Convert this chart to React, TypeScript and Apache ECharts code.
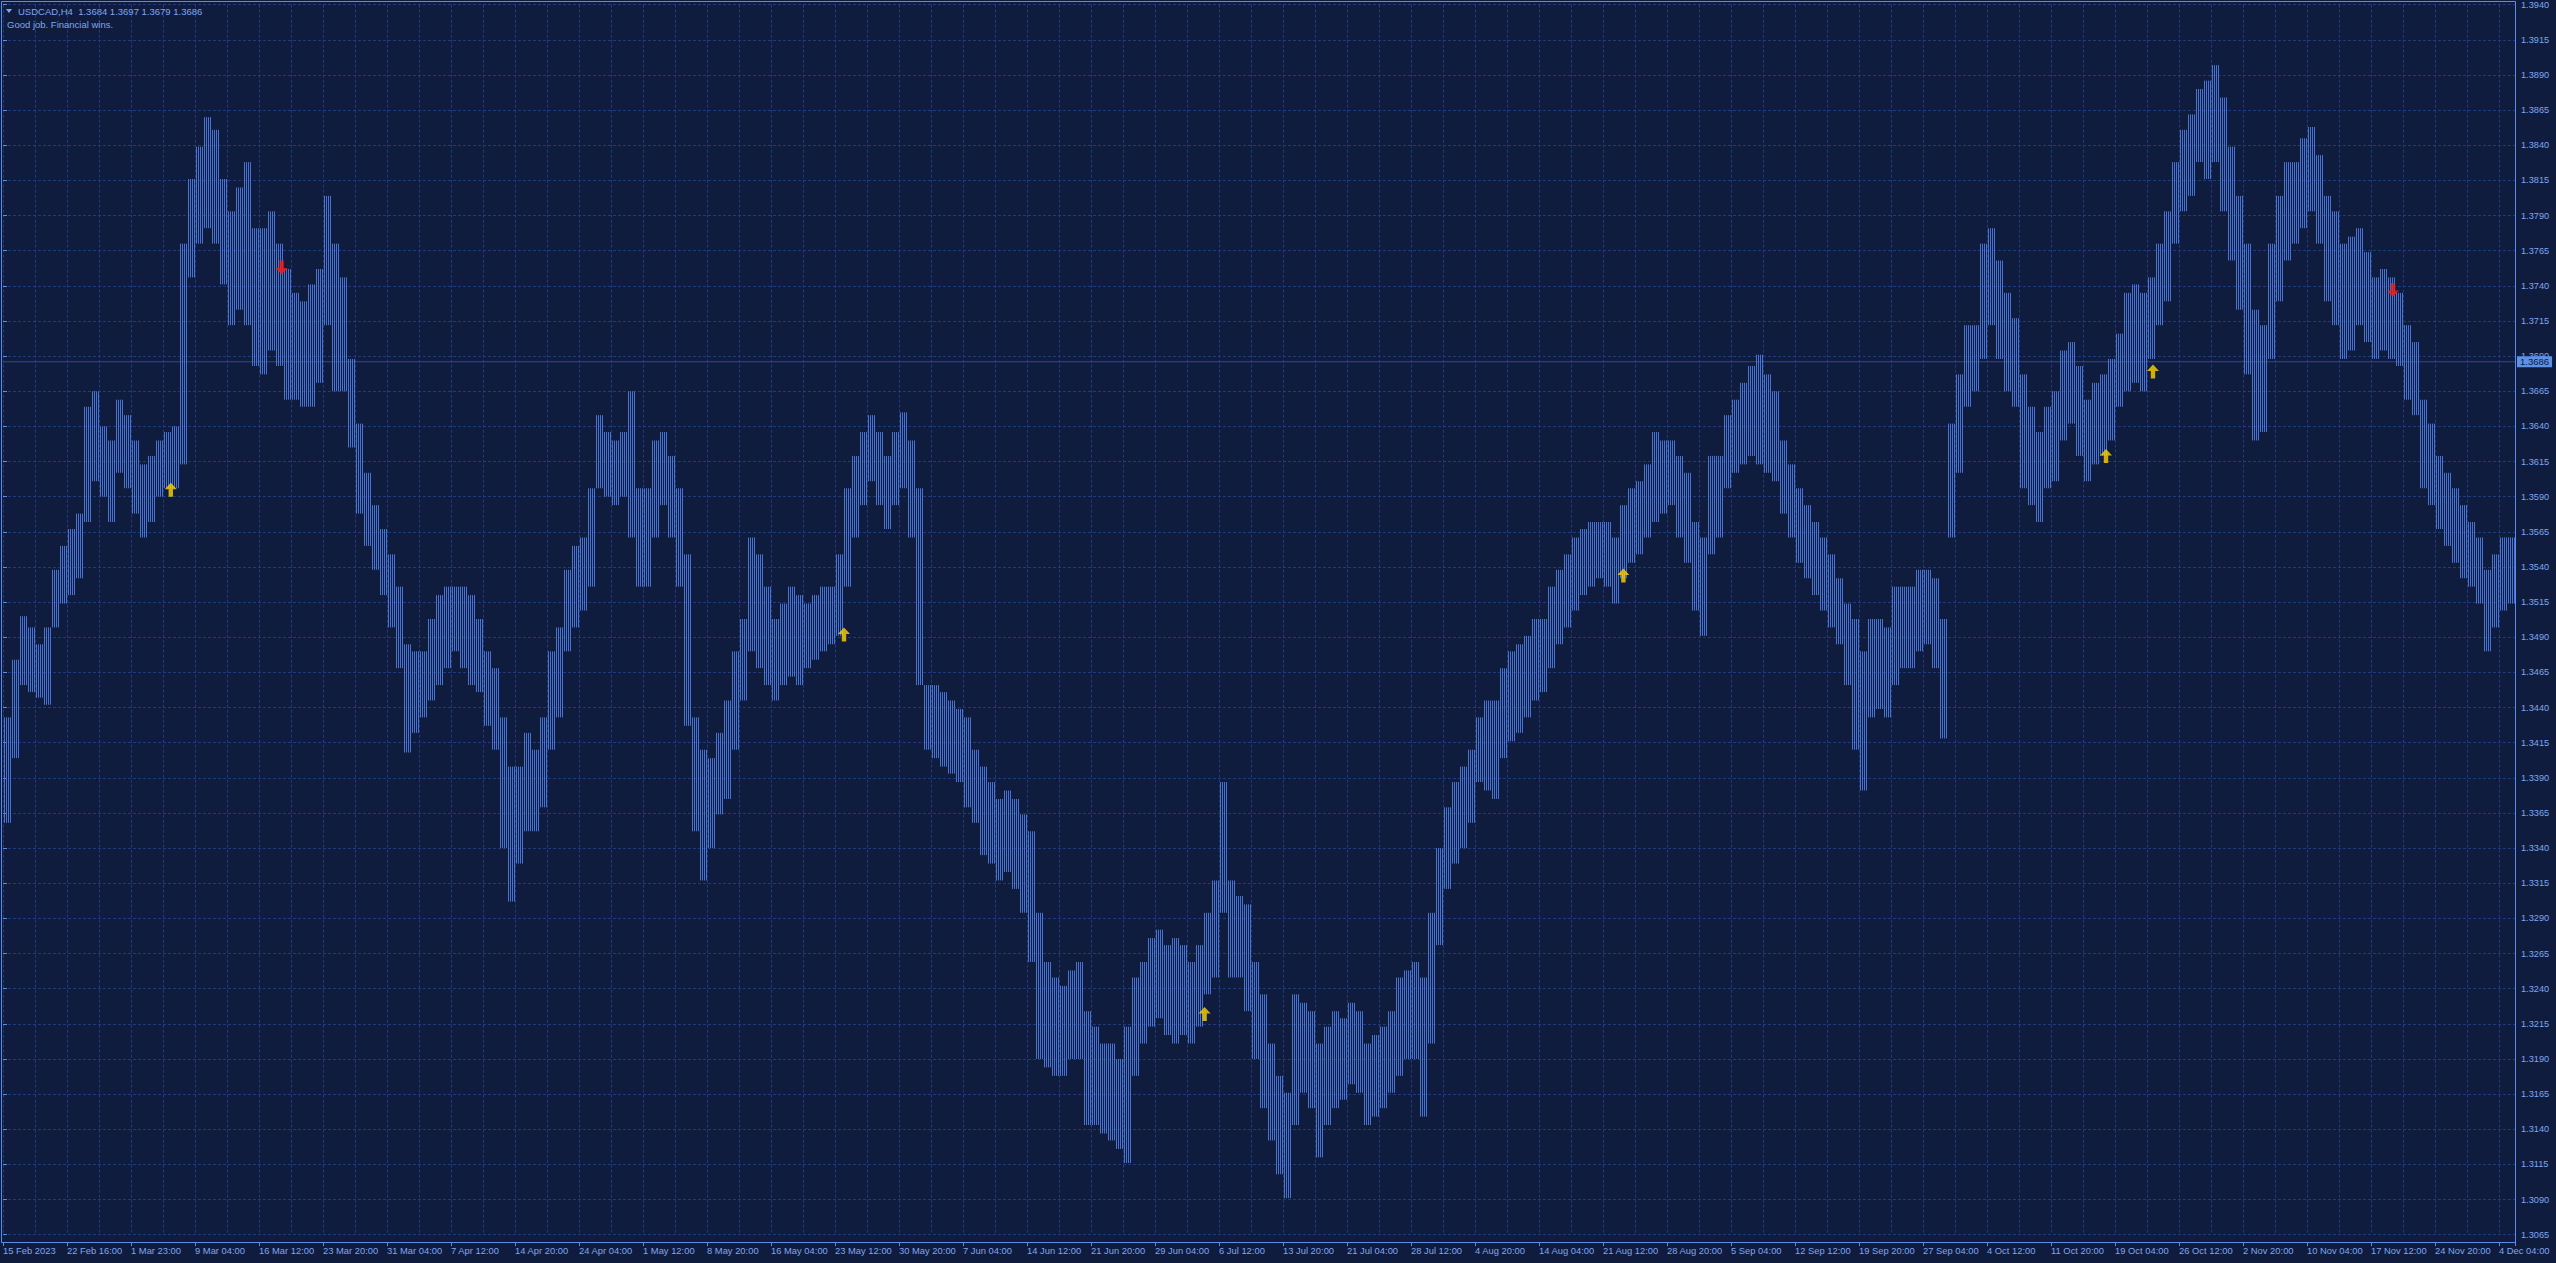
import React, { useEffect, useRef } from 'react';
import * as echarts from 'echarts';

// ---- data -------------------------------------------------------------
const TOTAL_BARS = 1256; // H4 bars visible in the window
const LABEL_EVERY = 32; // bars between time labels
const GRID_EVERY = 16; // bars between vertical grid lines

const tickLabels = [
  '15 Feb 2023', '22 Feb 16:00', '1 Mar 23:00', '9 Mar 04:00', '16 Mar 12:00', '23 Mar 20:00',
  '31 Mar 04:00', '7 Apr 12:00', '14 Apr 20:00', '24 Apr 04:00', '1 May 12:00', '8 May 20:00',
  '16 May 04:00', '23 May 12:00', '30 May 20:00', '7 Jun 04:00', '14 Jun 12:00', '21 Jun 20:00',
  '29 Jun 04:00', '6 Jul 12:00', '13 Jul 20:00', '21 Jul 04:00', '28 Jul 12:00', '4 Aug 20:00',
  '14 Aug 04:00', '21 Aug 12:00', '28 Aug 20:00', '5 Sep 04:00', '12 Sep 12:00', '19 Sep 20:00',
  '27 Sep 04:00', '4 Oct 12:00', '11 Oct 20:00', '19 Oct 04:00', '26 Oct 12:00', '2 Nov 20:00',
  '10 Nov 04:00', '17 Nov 12:00', '24 Nov 20:00', '4 Dec 04:00',
];

// high / low of consecutive groups of 4 bars, left to right
const highs = [
  1.3433, 1.3474, 1.3505, 1.3497, 1.3485, 1.3497, 1.3538, 1.3555, 1.3567, 1.3578,
  1.3654, 1.3665, 1.3640, 1.3630, 1.3659, 1.3648, 1.3630, 1.3613, 1.3619, 1.3630,
  1.3636, 1.3640, 1.3770, 1.3816, 1.3839, 1.3860, 1.3851, 1.3816, 1.3793, 1.3810,
  1.3828, 1.3781, 1.3781, 1.3793, 1.3770, 1.3752, 1.3735, 1.3729, 1.3741, 1.3752,
  1.3804, 1.3770, 1.3746, 1.3688, 1.3642, 1.3607, 1.3584, 1.3567, 1.3549, 1.3526,
  1.3485, 1.3480, 1.3480, 1.3503, 1.3520, 1.3526, 1.3526, 1.3526, 1.3520, 1.3503,
  1.3480, 1.3468, 1.3433, 1.3398, 1.3398, 1.3422, 1.3410, 1.3433, 1.3480, 1.3497,
  1.3538, 1.3555, 1.3561, 1.3596, 1.3648, 1.3636, 1.3630, 1.3636, 1.3665, 1.3596,
  1.3596, 1.3630, 1.3636, 1.3619, 1.3596, 1.3549, 1.3433, 1.3410, 1.3404, 1.3422,
  1.3445, 1.3480, 1.3503, 1.3561, 1.3549, 1.3526, 1.3503, 1.3514, 1.3526, 1.3520,
  1.3514, 1.3520, 1.3526, 1.3526, 1.3549, 1.3596, 1.3619, 1.3636, 1.3648, 1.3636,
  1.3619, 1.3636, 1.3650, 1.3630, 1.3596, 1.3456, 1.3456, 1.3451, 1.3445, 1.3439,
  1.3433, 1.3410, 1.3398, 1.3387, 1.3375, 1.3381, 1.3375, 1.3364, 1.3352, 1.3294,
  1.3259, 1.3248, 1.3242, 1.3253, 1.3259, 1.3224, 1.3213, 1.3201, 1.3201, 1.3190,
  1.3213, 1.3248, 1.3259, 1.3276, 1.3282, 1.3271, 1.3276, 1.3271, 1.3259, 1.3271,
  1.3294, 1.3317, 1.3387, 1.3317, 1.3306, 1.3300, 1.3259, 1.3236, 1.3201, 1.3178,
  1.3166, 1.3236, 1.3230, 1.3224, 1.3201, 1.3213, 1.3224, 1.3219, 1.3230, 1.3224,
  1.3201, 1.3207, 1.3213, 1.3224, 1.3248, 1.3253, 1.3259, 1.3248, 1.3294, 1.3340,
  1.3369, 1.3387, 1.3398, 1.3410, 1.3433, 1.3445, 1.3445, 1.3468, 1.3480, 1.3485,
  1.3491, 1.3503, 1.3503, 1.3526, 1.3538, 1.3549, 1.3561, 1.3567, 1.3572, 1.3572,
  1.3572, 1.3561, 1.3584, 1.3596, 1.3601, 1.3613, 1.3636, 1.3630, 1.3630, 1.3619,
  1.3607, 1.3572, 1.3561, 1.3619, 1.3619, 1.3648, 1.3659, 1.3671, 1.3683, 1.3691,
  1.3677, 1.3665, 1.3630, 1.3613, 1.3596, 1.3584, 1.3572, 1.3561, 1.3549, 1.3532,
  1.3514, 1.3503, 1.3480, 1.3503, 1.3503, 1.3497, 1.3526, 1.3526, 1.3526, 1.3538,
  1.3538, 1.3532, 1.3503, 1.3642, 1.3677, 1.3712, 1.3712, 1.3770, 1.3781, 1.3758,
  1.3735, 1.3717, 1.3677, 1.3654, 1.3636, 1.3654, 1.3665, 1.3694, 1.3700, 1.3683,
  1.3659, 1.3671, 1.3677, 1.3688, 1.3706, 1.3735, 1.3741, 1.3735, 1.3746, 1.3770,
  1.3793, 1.3828, 1.3851, 1.3862, 1.3880, 1.3886, 1.3897, 1.3874, 1.3839, 1.3804,
  1.3770, 1.3723, 1.3712, 1.3770, 1.3804, 1.3828, 1.3828, 1.3845, 1.3853, 1.3833,
  1.3804, 1.3793, 1.3770, 1.3775, 1.3781, 1.3764, 1.3746, 1.3752, 1.3746, 1.3735,
  1.3712, 1.3700, 1.3659, 1.3642, 1.3619, 1.3607, 1.3596, 1.3584, 1.3572, 1.3561,
  1.3538, 1.3549, 1.3561, 1.3561,
];

const lows = [
  1.3358, 1.3404, 1.3456, 1.3451, 1.3447, 1.3442, 1.3497, 1.3514, 1.3520, 1.3532,
  1.3572, 1.3601, 1.3590, 1.3572, 1.3607, 1.3596, 1.3578, 1.3561, 1.3572, 1.3590,
  1.3596, 1.3596, 1.3613, 1.3746, 1.3770, 1.3781, 1.3770, 1.3741, 1.3712, 1.3723,
  1.3712, 1.3683, 1.3677, 1.3694, 1.3683, 1.3659, 1.3659, 1.3654, 1.3654, 1.3671,
  1.3712, 1.3665, 1.3665, 1.3625, 1.3578, 1.3555, 1.3538, 1.3520, 1.3497, 1.3468,
  1.3408, 1.3422, 1.3433, 1.3445, 1.3456, 1.3468, 1.3480, 1.3468, 1.3456, 1.3451,
  1.3427, 1.3410, 1.3340, 1.3302, 1.3329, 1.3352, 1.3352, 1.3369, 1.3410, 1.3433,
  1.3480, 1.3497, 1.3509, 1.3526, 1.3596, 1.3590, 1.3584, 1.3590, 1.3561, 1.3526,
  1.3526, 1.3561, 1.3584, 1.3561, 1.3526, 1.3427, 1.3352, 1.3317, 1.3340, 1.3364,
  1.3375, 1.3410, 1.3445, 1.3480, 1.3468, 1.3456, 1.3445, 1.3456, 1.3462, 1.3456,
  1.3468, 1.3474, 1.3480, 1.3485, 1.3491, 1.3526, 1.3561, 1.3584, 1.3601, 1.3584,
  1.3567, 1.3584, 1.3596, 1.3561, 1.3456, 1.3410, 1.3404, 1.3398, 1.3393, 1.3387,
  1.3369, 1.3358, 1.3335, 1.3329, 1.3317, 1.3323, 1.3311, 1.3294, 1.3259, 1.3190,
  1.3184, 1.3178, 1.3178, 1.3190, 1.3190, 1.3143, 1.3143, 1.3137, 1.3132, 1.3126,
  1.3116, 1.3178, 1.3201, 1.3213, 1.3219, 1.3207, 1.3201, 1.3207, 1.3201, 1.3213,
  1.3236, 1.3248, 1.3294, 1.3248, 1.3248, 1.3224, 1.3190, 1.3155, 1.3132, 1.3108,
  1.3091, 1.3143, 1.3166, 1.3155, 1.3120, 1.3143, 1.3155, 1.3161, 1.3172, 1.3166,
  1.3143, 1.3149, 1.3155, 1.3166, 1.3178, 1.3190, 1.3190, 1.3149, 1.3201, 1.3271,
  1.3311, 1.3329, 1.3340, 1.3358, 1.3387, 1.3381, 1.3375, 1.3404, 1.3416, 1.3422,
  1.3433, 1.3445, 1.3451, 1.3468, 1.3485, 1.3497, 1.3509, 1.3520, 1.3526, 1.3532,
  1.3526, 1.3514, 1.3532, 1.3543, 1.3549, 1.3561, 1.3572, 1.3578, 1.3584, 1.3561,
  1.3543, 1.3509, 1.3491, 1.3549, 1.3561, 1.3596, 1.3607, 1.3613, 1.3619, 1.3613,
  1.3607, 1.3601, 1.3578, 1.3561, 1.3543, 1.3532, 1.3520, 1.3509, 1.3497, 1.3485,
  1.3456, 1.3410, 1.3381, 1.3433, 1.3439, 1.3433, 1.3456, 1.3468, 1.3468, 1.3480,
  1.3485, 1.3468, 1.3418, 1.3561, 1.3607, 1.3654, 1.3665, 1.3688, 1.3712, 1.3688,
  1.3665, 1.3654, 1.3596, 1.3584, 1.3572, 1.3596, 1.3601, 1.3630, 1.3642, 1.3619,
  1.3601, 1.3613, 1.3619, 1.3630, 1.3654, 1.3665, 1.3671, 1.3665, 1.3688, 1.3712,
  1.3729, 1.3770, 1.3793, 1.3804, 1.3828, 1.3816, 1.3828, 1.3793, 1.3758, 1.3723,
  1.3677, 1.3630, 1.3636, 1.3688, 1.3729, 1.3758, 1.3770, 1.3781, 1.3793, 1.3770,
  1.3729, 1.3712, 1.3688, 1.3694, 1.3712, 1.3700, 1.3688, 1.3694, 1.3688, 1.3683,
  1.3659, 1.3648, 1.3596, 1.3584, 1.3567, 1.3555, 1.3543, 1.3532, 1.3526, 1.3514,
  1.3480, 1.3497, 1.3509, 1.3514,
];

// signal arrows: [bar index, price]
const buyArrows = [
  [83.9, 1.3595], [420.5, 1.3492], [600.8, 1.3222], [810.2, 1.3534],
  [1051.5, 1.3619], [1075, 1.3679],
];
const sellArrows = [
  [139.3, 1.3753], [1195, 1.3737],
];

const priceMin = 1.3065;
const priceMax = 1.394;
const priceStep = 0.0025;
const bidPrice = 1.3686;
const symbolName = 'USDCAD,H4';
const lastOHLC = [1.3684, 1.3697, 1.3679, 1.3686];
const commentText = 'Good job. Financial wins.';

// ---- styles -----------------------------------------------------------
const BG = '#101c3e';
const GRID = '#203b7b';
const FRAME = '#5c8ce6';
const TEXT = '#7ea7f2';
const BAR = '#4673d4';
const FONT = 'Liberation Sans, Arial, sans-serif';

const upPath = 'path://M6,0 L12,6.5 L8.2,6.5 L8.2,14 L3.8,14 L3.8,6.5 L0,6.5 Z';
const downPath = 'path://M3.8,0 L8.2,0 L8.2,7.5 L12,7.5 L6,14 L0,7.5 L3.8,7.5 Z';

export default function App() {
  const ref = useRef<HTMLDivElement>(null);

  useEffect(() => {
    const el = ref.current!;
    const chart = echarts.init(el, null, { renderer: 'svg' });
    const bps = TOTAL_BARS / highs.length;

    const option: any = {
      animation: false,
      backgroundColor: BG,
      textStyle: { fontFamily: FONT },
      grid: { left: 3, right: 41, top: 4.7, bottom: 28.3, containLabel: false },
      xAxis: [
        {
          type: 'value',
          min: 0,
          max: TOTAL_BARS,
          interval: LABEL_EVERY,
          position: 'bottom',
          offset: 7.3,
          axisLine: { show: false },
          axisTick: { show: true, length: 4, lineStyle: { color: FRAME, width: 1 } },
          axisLabel: {
            show: true,
            align: 'left',
            margin: 4,
            color: TEXT,
            fontSize: 9.4,
            fontFamily: FONT,
            formatter: (v: number) => {
              const i = Math.round(v / LABEL_EVERY);
              return Math.abs(i * LABEL_EVERY - v) < 1e-6 && tickLabels[i] ? tickLabels[i] : '';
            },
          },
          splitLine: { show: false },
        },
        {
          type: 'value',
          min: 0,
          max: TOTAL_BARS,
          interval: GRID_EVERY,
          position: 'top',
          axisLine: { show: false },
          axisTick: { show: false },
          axisLabel: { show: false },
          splitLine: { show: true, lineStyle: { color: GRID, type: [3, 2], width: 1 } },
        },
      ],
      yAxis: {
        type: 'value',
        position: 'right',
        min: priceMin,
        max: priceMax,
        interval: priceStep,
        axisLine: { show: false },
        axisTick: { show: true, length: 4, lineStyle: { color: FRAME, width: 1 } },
        axisLabel: {
          color: TEXT,
          fontSize: 9.2,
          fontFamily: FONT,
          margin: 6,
          formatter: (v: number) => v.toFixed(4),
        },
        splitLine: { show: true, lineStyle: { color: GRID, type: [3, 2], width: 1 } },
      },
      graphic: [
        {
          type: 'rect',
          silent: true,
          z: 100,
          shape: { x: 1.5, y: 1.5, width: 2514, height: 1241 },
          style: { fill: null, stroke: FRAME, lineWidth: 1 },
        },
        {
          type: 'polygon',
          silent: true,
          z: 100,
          shape: { points: [[6, 9], [12, 9], [9, 13]] },
          style: { fill: TEXT },
        },
        {
          type: 'text',
          silent: true,
          z: 100,
          x: 18,
          y: 11,
          style: {
            text: symbolName + '  ' + lastOHLC.map((v) => v.toFixed(4)).join(' '),
            fill: TEXT,
            font: '9.5px ' + FONT,
            verticalAlign: 'middle',
          },
        },
        {
          type: 'text',
          silent: true,
          z: 100,
          x: 7,
          y: 24,
          style: {
            text: commentText,
            fill: TEXT,
            font: '9.5px ' + FONT,
            verticalAlign: 'middle',
          },
        },
      ],
      series: [
        {
          type: 'line',
          xAxisIndex: 0,
          data: [[0, bidPrice], [TOTAL_BARS, bidPrice]],
          symbol: 'none',
          silent: true,
          z: 1,
          lineStyle: { color: '#2c4a8c', width: 1 },
          endLabel: {
            show: true,
            distance: 2,
            formatter: () => bidPrice.toFixed(4),
            backgroundColor: '#5f90e8',
            color: '#0c1838',
            fontSize: 9.5,
            fontFamily: FONT,
            padding: [1, 3, 0, 3],
          },
        },
        {
          type: 'custom',
          xAxisIndex: 0,
          clip: true,
          z: 2,
          data: highs.map((h, i) => [i, h, lows[i]]),
          encode: { x: 0, y: [1, 2] },
          renderItem: (params: any, api: any) => {
            const i = api.value(0);
            const hi = api.value(1);
            const lo = api.value(2);
            const children: any[] = [];
            for (let j = 0; j < bps; j++) {
              const bar = i * bps + j + 0.5;
              const p1 = api.coord([bar, hi]);
              const p2 = api.coord([bar, lo]);
              const x = Math.round(p1[0]) + 0.5;
              children.push({
                type: 'line',
                shape: { x1: x, y1: p1[1], x2: x, y2: p2[1] },
                style: { stroke: BAR, lineWidth: 1 },
              });
            }
            return { type: 'group', children };
          },
        },
        {
          type: 'scatter',
          xAxisIndex: 0,
          symbol: upPath,
          symbolSize: [12, 14],
          itemStyle: { color: '#ffd400' },
          data: buyArrows,
          z: 5,
        },
        {
          type: 'scatter',
          xAxisIndex: 0,
          symbol: downPath,
          symbolSize: [12, 14],
          itemStyle: { color: '#ff1a10' },
          data: sellArrows,
          z: 5,
        },
      ],
    };

    chart.setOption(option);
    return () => chart.dispose();
  }, []);

  return (
    <div
      ref={ref}
      style={{ position: 'fixed', left: 0, top: 0, width: '100vw', height: '100vh' }}
    />
  );
}
